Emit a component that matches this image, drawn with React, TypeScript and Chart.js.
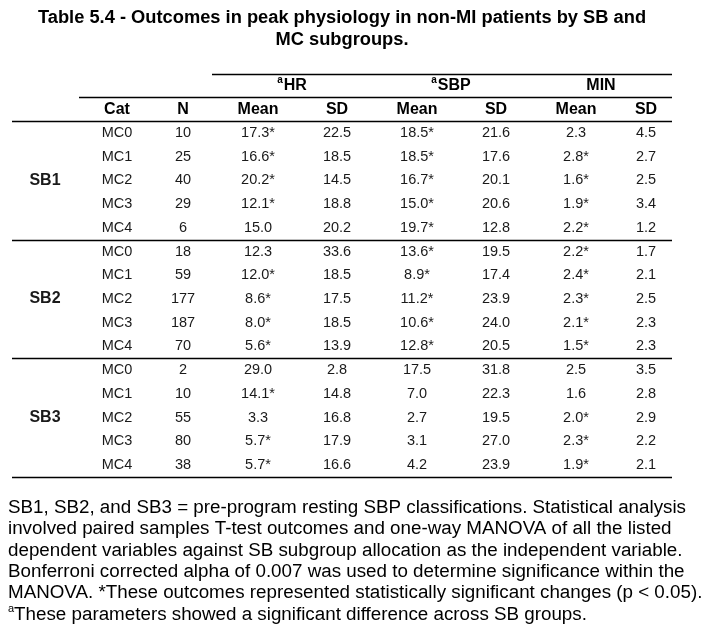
import React, { useEffect, useRef } from "react";
import { Chart, registerables } from "chart.js";

Chart.register(...registerables);

// ---------- content ----------
const TITLE_LINES = [
  "Table 5.4 - Outcomes in peak physiology in non-MI patients by SB and",
  "MC subgroups.",
];
const GROUPS = ["SB1", "SB2", "SB3"];
const CATS = ["MC0", "MC1", "MC2", "MC3", "MC4"];
const MEASURES = ["HR", "SBP", "MIN"];
const MEASURE_SUP = ["a", "a", ""];
const SUB_HEADERS = ["Cat", "N", "Mean", "SD", "Mean", "SD", "Mean", "SD"];

const N_VALUES = [10, 25, 40, 29, 6, 18, 59, 177, 187, 70, 2, 10, 55, 80, 38];
const HR_MEAN = [17.3, 16.6, 20.2, 12.1, 15.0, 12.3, 12.0, 8.6, 8.0, 5.6, 29.0, 14.1, 3.3, 5.7, 5.7];
const HR_MEAN_SIG = [1, 1, 1, 1, 0, 0, 1, 1, 1, 1, 0, 1, 0, 1, 1];
const HR_SD = [22.5, 18.5, 14.5, 18.8, 20.2, 33.6, 18.5, 17.5, 18.5, 13.9, 2.8, 14.8, 16.8, 17.9, 16.6];
const SBP_MEAN = [18.5, 18.5, 16.7, 15.0, 19.7, 13.6, 8.9, 11.2, 10.6, 12.8, 17.5, 7.0, 2.7, 3.1, 4.2];
const SBP_MEAN_SIG = [1, 1, 1, 1, 1, 1, 1, 1, 1, 1, 0, 0, 0, 0, 0];
const SBP_SD = [21.6, 17.6, 20.1, 20.6, 12.8, 19.5, 17.4, 23.9, 24.0, 20.5, 31.8, 22.3, 19.5, 27.0, 23.9];
const MIN_MEAN = [2.3, 2.8, 1.6, 1.9, 2.2, 2.2, 2.4, 2.3, 2.1, 1.5, 2.5, 1.6, 2.0, 2.3, 1.9];
const MIN_MEAN_SIG = [0, 1, 1, 1, 1, 1, 1, 1, 1, 1, 0, 0, 1, 1, 1];
const MIN_SD = [4.5, 2.7, 2.5, 3.4, 1.2, 1.7, 2.1, 2.5, 2.3, 2.3, 3.5, 2.8, 2.9, 2.2, 2.1];

const FOOTNOTE_LINES = [
  "SB1, SB2, and SB3 = pre-program resting SBP classifications. Statistical analysis",
  "involved paired samples T-test outcomes and one-way MANOVA of all the listed",
  "dependent variables against SB subgroup allocation as the independent variable.",
  "Bonferroni corrected alpha of 0.007 was used to determine significance within the",
  "MANOVA. *These outcomes represented statistically significant changes (p < 0.05).",
  "These parameters showed a significant difference across SB groups.",
];
const FOOTNOTE_SUP = ["", "", "", "", "", "a"];

// ---------- layout / style ----------
const W = 706;
const H = 642;
const FONT = '"Liberation Sans", Arial, sans-serif';
const COL_X = {
  group: 45,
  cat: 117,
  n: 183,
  hrMean: 258,
  hrSd: 337,
  sbpMean: 417,
  sbpSd: 496,
  minMean: 576,
  minSd: 646,
};
const HEADER_X = [COL_X.cat, COL_X.n, COL_X.hrMean, COL_X.hrSd, COL_X.sbpMean, COL_X.sbpSd, COL_X.minMean, COL_X.minSd];
const MEASURE_X = [292, 451, 601];
const LINE_LEFT = 12;
const LINE_RIGHT = 672;
const TOP_LINE_LEFT = 212;
const SECOND_LINE_LEFT = 79;
const TABLE_TOP = 121;
const TABLE_BOTTOM = 477;
const TITLE_X = 342;
const TITLE_Y = [18, 40];
const FOOT_X = 8;
const FOOT_Y0 = 508;
const FOOT_PITCH = 21.3;

const ROW_KEYS: string[] = [];
GROUPS.forEach((g) => CATS.forEach((c) => ROW_KEYS.push(g + " " + c)));

const fmt = (v: number, sig?: number) => v.toFixed(1) + (sig ? "*" : "");

function column(label: string, x: number, texts: string[], font: string) {
  return {
    label,
    data: ROW_KEYS.map((k) => ({ x, y: k })),
    texts,
    textFont: font,
    pointRadius: 0,
    pointHoverRadius: 0,
  };
}

const DATA_FONT = "14.5px " + FONT;
const HEAD_FONT = "bold 16px " + FONT;

const tablePlugin = {
  id: "tableDrawer",
  afterDatasetsDraw(chart: any) {
    const ctx: CanvasRenderingContext2D = chart.ctx;
    const ys = chart.scales.y;
    const area = chart.chartArea;
    const band = ys.getPixelForValue(1) - ys.getPixelForValue(0);
    ctx.save();
    ctx.fillStyle = "#000";
    ctx.textBaseline = "middle";

    // title
    ctx.font = "bold 18.3px " + FONT;
    ctx.textAlign = "center";
    TITLE_LINES.forEach((t, i) => ctx.fillText(t, TITLE_X, TITLE_Y[i]));

    // rules
    ctx.strokeStyle = "#000";
    ctx.lineWidth = 1.4;
    const hline = (x0: number, x1: number, y: number) => {
      ctx.beginPath();
      ctx.moveTo(x0, Math.round(y) + 0.5);
      ctx.lineTo(x1, Math.round(y) + 0.5);
      ctx.stroke();
    };
    hline(TOP_LINE_LEFT, LINE_RIGHT, area.top - 2 * band);
    hline(SECOND_LINE_LEFT, LINE_RIGHT, area.top - band);
    for (let g = 0; g <= GROUPS.length; g++) {
      hline(LINE_LEFT, LINE_RIGHT, area.top + g * CATS.length * band);
    }

    // measure headers with superscript
    MEASURES.forEach((m, i) => {
      const y = area.top - 1.5 * band;
      ctx.font = "bold 16px " + FONT;
      const wMain = ctx.measureText(m).width;
      ctx.font = "bold 10px " + FONT;
      const wSup = MEASURE_SUP[i] ? ctx.measureText(MEASURE_SUP[i]).width + 1 : 0;
      const x0 = MEASURE_X[i] - (wMain + wSup) / 2;
      ctx.textAlign = "left";
      if (wSup) ctx.fillText(MEASURE_SUP[i], x0, y - 5);
      ctx.font = "bold 16px " + FONT;
      ctx.fillText(m, x0 + wSup, y);
    });

    // sub headers
    ctx.font = HEAD_FONT;
    ctx.textAlign = "center";
    SUB_HEADERS.forEach((h, i) => ctx.fillText(h, HEADER_X[i], area.top - 0.5 * band));

    // cells
    chart.data.datasets.forEach((ds: any, di: number) => {
      const meta = chart.getDatasetMeta(di);
      ctx.font = ds.textFont;
      ctx.fillStyle = "#1a1a1a";
      meta.data.forEach((pt: any, i: number) => {
        const t = ds.texts[i];
        if (t) ctx.fillText(t, pt.x, pt.y);
      });
    });

    // footnote
    ctx.fillStyle = "#000";
    ctx.textAlign = "left";
    FOOTNOTE_LINES.forEach((t, i) => {
      const y = FOOT_Y0 + i * FOOT_PITCH;
      let x = FOOT_X;
      if (FOOTNOTE_SUP[i]) {
        ctx.font = "11px " + FONT;
        ctx.fillText(FOOTNOTE_SUP[i], x, y - 6);
        x += ctx.measureText(FOOTNOTE_SUP[i]).width;
      }
      ctx.font = "18.8px " + FONT;
      ctx.fillText(t, x, y);
    });
    ctx.restore();
  },
};

export default function App() {
  const ref = useRef<HTMLCanvasElement | null>(null);
  useEffect(() => {
    if (!ref.current) return;
    const groupTexts = ROW_KEYS.map((_, i) => (i % CATS.length === 2 ? GROUPS[Math.floor(i / CATS.length)] : ""));
    const datasets = [
      column("Group", COL_X.group, groupTexts, "bold 16px " + FONT),
      column("Cat", COL_X.cat, ROW_KEYS.map((_, i) => CATS[i % CATS.length]), DATA_FONT),
      column("N", COL_X.n, N_VALUES.map(String), DATA_FONT),
      column("HR Mean", COL_X.hrMean, HR_MEAN.map((v, i) => fmt(v, HR_MEAN_SIG[i])), DATA_FONT),
      column("HR SD", COL_X.hrSd, HR_SD.map((v) => fmt(v)), DATA_FONT),
      column("SBP Mean", COL_X.sbpMean, SBP_MEAN.map((v, i) => fmt(v, SBP_MEAN_SIG[i])), DATA_FONT),
      column("SBP SD", COL_X.sbpSd, SBP_SD.map((v) => fmt(v)), DATA_FONT),
      column("MIN Mean", COL_X.minMean, MIN_MEAN.map((v, i) => fmt(v, MIN_MEAN_SIG[i])), DATA_FONT),
      column("MIN SD", COL_X.minSd, MIN_SD.map((v) => fmt(v)), DATA_FONT),
    ];
    const chart = new Chart(ref.current, {
      type: "scatter",
      data: { datasets: datasets as any },
      options: {
        animation: false,
        responsive: false,
        devicePixelRatio: 1,
        events: [],
        layout: { padding: { top: TABLE_TOP, bottom: H - TABLE_BOTTOM, left: 0, right: 0 } },
        plugins: { legend: { display: false }, tooltip: { enabled: false }, title: { display: false } },
        scales: {
          x: { type: "linear", min: 0, max: W, display: false },
          y: { type: "category", labels: ROW_KEYS, offset: true, display: false },
        },
      },
      plugins: [tablePlugin],
    });
    return () => chart.destroy();
  }, []);
  return (
    <>
      <style>{"body{margin:0;background:#fff}"}</style>
      <canvas ref={ref} width={W} height={H} style={{ display: "block", width: W, height: H }} />
    </>
  );
}
